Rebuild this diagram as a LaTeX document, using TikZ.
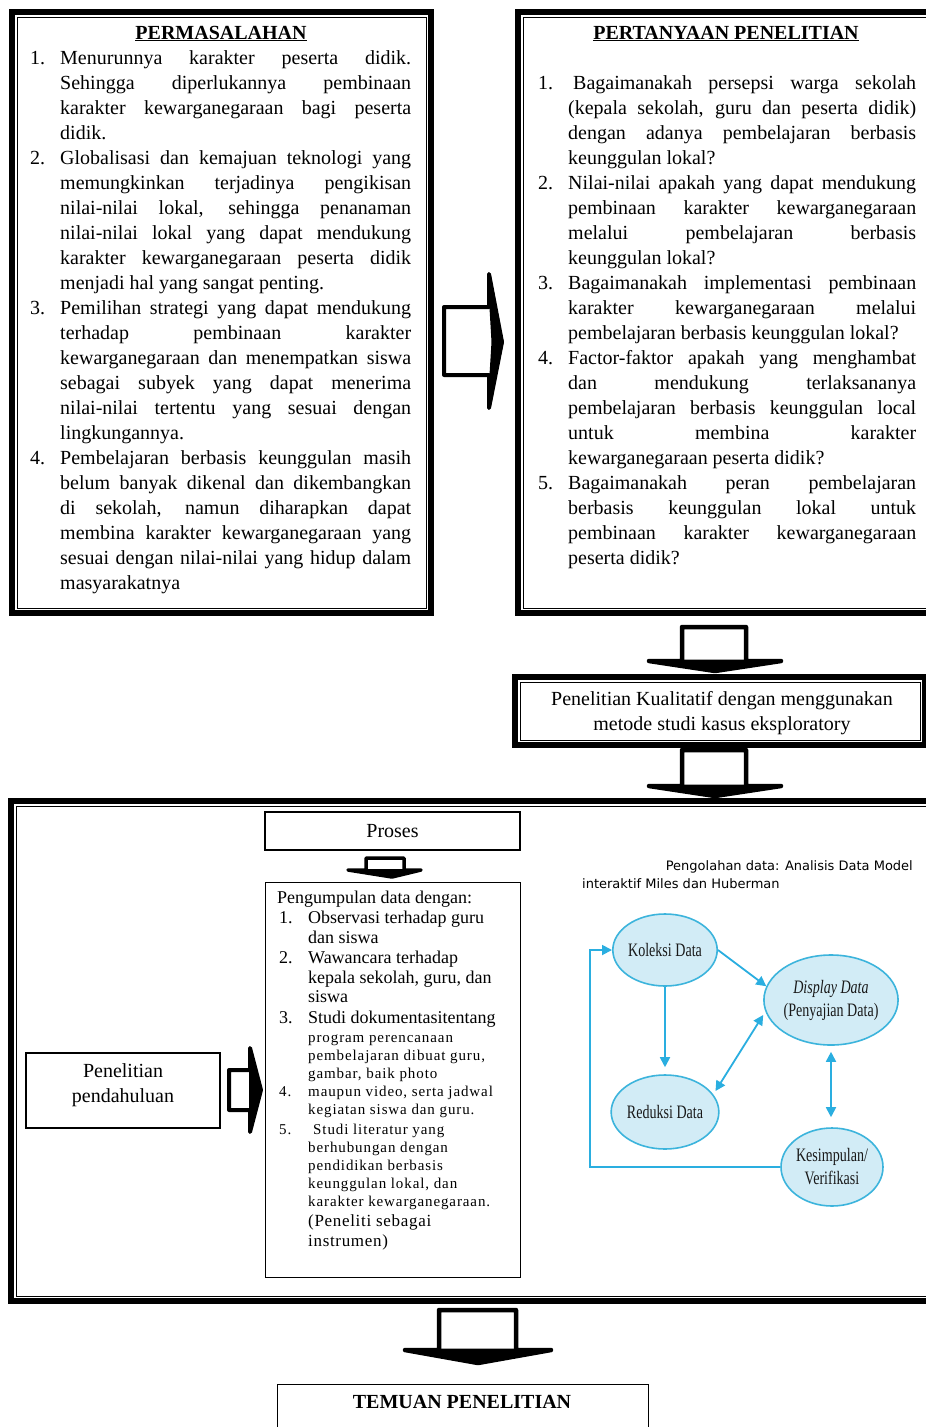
\documentclass[tikz,border=0pt]{standalone}
\usepackage{fontspec}
\setmainfont{Liberation Serif}
\newfontfamily\dvsans{DejaVu Sans}
\usepackage{graphicx}
\usetikzlibrary{shapes.geometric,arrows.meta}
\definecolor{cyanb}{HTML}{3CB4DC}
\definecolor{cyanf}{HTML}{D2ECF6}
\definecolor{cyana}{HTML}{2AAEE0}
\newlength\numw \newlength\txtw
\newcommand\JN[2]{\hbox{\hbox to\numw{#1\hfil}\hbox to\txtw{#2}}}
\newcommand\JC[1]{\hbox{\hbox to\numw{\hfil}\hbox to\txtw{#1}}}
\newcommand\LC[1]{\hbox{\hbox to\numw{\hfil}\hbox to\txtw{#1\hfil}}}
\newcommand\CLines[1]{\vtop{\halign{\hfil##\hfil\cr#1\crcr}}}
\newcommand\Frame[4]{\draw[line width=6pt] (#1+3,#2+3) rectangle (#3-3,#4-3);
  \draw[line width=0.9pt] (#1+8,#2+8) rectangle (#3-8,#4-8);}
\newcommand\FT{\fontsize{20}{25}\selectfont}
\newcommand\FA{\fontsize{18}{20}\selectfont}
\newcommand\FB{\fontsize{15}{18}\selectfont\addfontfeature{LetterSpace=6}}
\newcommand\FC{\fontsize{17}{20}\selectfont\addfontfeature{LetterSpace=4}}
\newcommand\PL[5]{\node[anchor=base west, inner sep=0, font=#5] (#1n) at (279,#2) {#3};
  \node[anchor=base west, inner sep=0, font=#5] (#1t) at (308,#2) {#4};}
\tikzset{
  harrow/.style={draw, line width=4.5pt, fill=white, line join=round},
  ahead/.style={fill=black, draw, line width=3pt, line join=round},
  tbox/.style={draw, line width=1.1pt, inner sep=0pt},
  ell/.style={ellipse, draw=cyanb, fill=cyanf, line width=1.6pt, inner sep=0pt,
    text=black!90, font=\fontsize{19}{23}\selectfont},
  carrow/.style={draw=cyana, line width=1.8pt, -{Triangle[length=10pt,width=10pt]}},
  cbarrow/.style={draw=cyana, line width=1.8pt, {Triangle[length=10pt,width=10pt]}-{Triangle[length=10pt,width=10pt]}}
}
\begin{document}
\begin{tikzpicture}[x=1pt,y=-1pt]
\useasboundingbox (0,0) rectangle (926,1427);
\fill[white] (0,0) rectangle (926,1427);

% frames
\Frame{9}{9}{434}{616}
\Frame{515}{9}{945}{616}
\Frame{512}{674}{928}{748}
\Frame{8}{798}{945}{1304}

% block arrows
\draw[harrow, line width=4pt] (444,307) -- (489,307) -- (489,274) -- (502,342) -- (489,408) -- (489,375) -- (444,375) -- cycle;
\draw[ahead] (489,274) -- (502,342) -- (489,408) -- (493,342) -- cycle;
\draw[harrow] (682,627) -- (746,627) -- (746,661) -- (781,661) -- (715,671) -- (649,661) -- (682,661) -- cycle;
\draw[ahead] (649,661) -- (781,661) -- (715,671) -- cycle;
\draw[harrow] (682,750) -- (746,750) -- (746,786) -- (781,786) -- (715,796) -- (649,786) -- (682,786) -- cycle;
\draw[ahead] (649,786) -- (781,786) -- (715,796) -- cycle;
\draw[harrow, line width=3.5pt] (366,858) -- (404,858) -- (404,870) -- (421,870) -- (392,877) -- (348,870) -- (366,870) -- cycle;
\draw[ahead, line width=2pt] (348,870) -- (421,870) -- (392,877) -- cycle;
\draw[harrow, line width=4pt] (229,1070) -- (250,1070) -- (250,1048) -- (261,1090) -- (250,1132) -- (250,1110) -- (229,1110) -- cycle;
\draw[ahead, line width=2pt] (250,1048) -- (261,1090) -- (250,1132) -- cycle;
\draw[harrow] (439,1310) -- (516,1310) -- (516,1350) -- (551,1350) -- (478,1363) -- (405,1350) -- (439,1350) -- cycle;
\draw[ahead] (405,1350) -- (551,1350) -- (478,1363) -- cycle;

% PERMASALAHAN
\node[anchor=base, inner sep=0, font=\bfseries\FT] (pmt) at (221,39) {\underline{PERMASALAHAN}};
\node[anchor=base west, inner sep=0, font=\FT] (pmx) at (30,64) {\setlength\numw{30pt}\setlength\txtw{351pt}\vtop{%
\JN{1.}{Menurunnya karakter peserta didik.}
\JC{Sehingga diperlukannya pembinaan}
\JC{karakter kewarganegaraan bagi peserta}
\LC{didik.}
\JN{2.}{Globalisasi dan kemajuan teknologi yang}
\JC{memungkinkan terjadinya pengikisan}
\JC{nilai-nilai lokal, sehingga penanaman}
\JC{nilai-nilai lokal yang dapat mendukung}
\JC{karakter kewarganegaraan peserta didik}
\LC{menjadi hal yang sangat penting.}
\JN{3.}{Pemilihan strategi yang dapat mendukung}
\JC{terhadap pembinaan karakter}
\JC{kewarganegaraan dan menempatkan siswa}
\JC{sebagai subyek yang dapat menerima}
\JC{nilai-nilai tertentu yang sesuai dengan}
\LC{lingkungannya.}
\JN{4.}{Pembelajaran berbasis keunggulan masih}
\JC{belum banyak dikenal dan dikembangkan}
\JC{di sekolah, namun diharapkan dapat}
\JC{membina karakter kewarganegaraan yang}
\JC{sesuai dengan nilai-nilai yang hidup dalam}
\LC{masyarakatnya}}};

% PERTANYAAN PENELITIAN
\node[anchor=base, inner sep=0, font=\bfseries\FT] (ppt) at (726,39) {\underline{PERTANYAAN PENELITIAN}};
\node[anchor=base west, inner sep=0, font=\FT] (ppx) at (538,89) {\setlength\numw{30pt}\setlength\txtw{348pt}\vtop{%
\JN{1.}{\hspace{5pt}Bagaimanakah persepsi warga sekolah}
\JC{(kepala sekolah, guru dan peserta didik)}
\JC{dengan adanya pembelajaran berbasis}
\LC{keunggulan lokal?}
\JN{2.}{Nilai-nilai apakah yang dapat mendukung}
\JC{pembinaan karakter kewarganegaraan}
\JC{melalui pembelajaran berbasis}
\LC{keunggulan lokal?}
\JN{3.}{Bagaimanakah implementasi pembinaan}
\JC{karakter kewarganegaraan melalui}
\LC{pembelajaran berbasis keunggulan lokal?}
\JN{4.}{Factor-faktor apakah yang menghambat}
\JC{dan mendukung terlaksananya}
\JC{pembelajaran berbasis keunggulan local}
\JC{untuk membina karakter}
\LC{kewarganegaraan peserta didik?}
\JN{5.}{Bagaimanakah peran pembelajaran}
\JC{berbasis keunggulan lokal untuk}
\JC{pembinaan karakter kewarganegaraan}
\LC{peserta didik?}}};

% Kualitatif
\node[anchor=base, inner sep=0, font=\FT] (kt) at (722,705) {\CLines{Penelitian Kualitatif dengan menggunakan\cr metode studi kasus eksploratory}};

% Proses and collection box
\node[tbox, minimum width=255, minimum height=38, font=\FT] (pro) at (392.5,831) {Proses};
\node[tbox, anchor=north west, minimum width=255, minimum height=395] (pgb) at (265,882) {};
\node[anchor=base west, inner sep=0, font=\FA] (pg0) at (277,903) {Pengumpulan data dengan:};
\PL{a}{923}{1.}{Observasi terhadap guru}{\FA}
\PL{b}{943}{}{dan siswa}{\FA}
\PL{c}{963}{2.}{Wawancara terhadap}{\FA}
\PL{d}{983}{}{kepala sekolah, guru, dan}{\FA}
\PL{e}{1002}{}{siswa}{\FA}
\PL{f}{1023}{3.}{Studi dokumentasitentang}{\FA}
\PL{g}{1042}{}{program perencanaan}{\FB}
\PL{h}{1060}{}{pembelajaran dibuat guru,}{\FB}
\PL{i}{1078}{}{gambar, baik photo}{\FB}
\PL{j}{1096}{4.}{maupun video, serta jadwal}{\FB}
\PL{k}{1114}{}{kegiatan siswa dan guru.}{\FB}
\PL{l}{1134}{5.}{\hspace{5pt}Studi literatur yang}{\FB}
\PL{m}{1152}{}{berhubungan dengan}{\FB}
\PL{n}{1170}{}{pendidikan berbasis}{\FB}
\PL{o}{1188}{}{keunggulan lokal, dan}{\FB}
\PL{p}{1206}{}{karakter kewarganegaraan.}{\FB}
\PL{q}{1226}{}{(Peneliti sebagai}{\FC}
\PL{r}{1246}{}{instrumen)}{\FC}

% Penelitian pendahuluan
\node[tbox, minimum width=194, minimum height=75] (pp) at (123,1090.5) {};
\node[anchor=base, inner sep=0, font=\FT] (ppl) at (123,1077) {\CLines{Penelitian\cr pendahuluan}};

% Miles & Huberman
\node[anchor=base east, inner sep=0, font=\dvsans\fontsize{13}{14}\selectfont] (pg1) at (913,870) {Pengolahan data: Analisis Data Model};
\node[anchor=base west, inner sep=0, font=\dvsans\fontsize{13}{14}\selectfont] (pg2) at (582,888) {interaktif Miles dan Huberman};
\node[ell, minimum width=104, minimum height=72] (kol) at (665,950) {\scalebox{0.74}[1]{Koleksi Data}};
\node[ell, minimum width=102, minimum height=90] (dis) at (831,1000) {\scalebox{0.74}[1]{\CLines{\itshape Display Data\cr (Penyajian Data)}}};
\node[ell, minimum width=106, minimum height=74] (red) at (665,1112) {\scalebox{0.74}[1]{Reduksi Data}};
\node[ell, minimum width=102, minimum height=78] (kes) at (832,1167) {\scalebox{0.74}[1]{\CLines{Kesimpulan/\cr Verifikasi}}};
\draw[carrow] (kol.east) -- (dis.168);
\draw[carrow, shorten >=7pt] (kol.south) -- (red.north);
\draw[cbarrow, shorten <=4pt, shorten >=4pt] (red.20) -- (dis.190);
\draw[cbarrow, shorten <=6pt, shorten >=10pt] (dis.south) -- (dis.south |- kes.north);
\coordinate (lp) at (590,1167);
\draw[carrow] (kes.west) -- (lp) -- (lp |- kol.west) -- (kol.west);

% TEMUAN
\node[tbox, anchor=north west, minimum width=371, minimum height=60] (tem) at (277,1384) {};
\node[anchor=base, inner sep=0, font=\bfseries\fontsize{20}{20}\selectfont] (temt) at (462,1408) {TEMUAN PENELITIAN};
\end{tikzpicture}
\end{document}
